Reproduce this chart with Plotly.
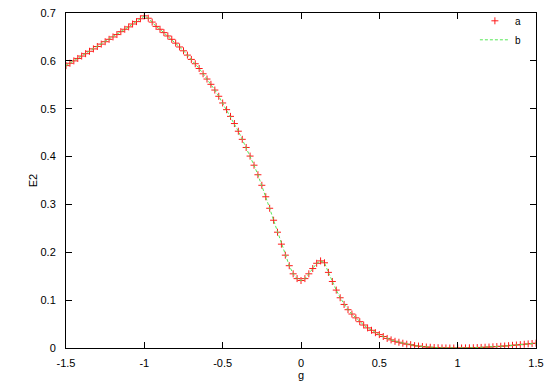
import plotly.graph_objects as go

g_values = [
    -1.500, -1.475, -1.450, -1.425, -1.400, -1.375, -1.350, -1.325, -1.300, -1.275,
    -1.250, -1.225, -1.200, -1.175, -1.150, -1.125, -1.100, -1.075, -1.050, -1.025,
    -1.000, -0.975, -0.950, -0.925, -0.900, -0.875, -0.850, -0.825, -0.800, -0.775,
    -0.750, -0.725, -0.700, -0.675, -0.650, -0.625, -0.600, -0.575, -0.550, -0.525,
    -0.500, -0.475, -0.450, -0.425, -0.400, -0.375, -0.350, -0.325, -0.300, -0.275,
    -0.250, -0.225, -0.200, -0.175, -0.150, -0.125, -0.100, -0.075, -0.050, -0.025,
    0.000, 0.025, 0.050, 0.075, 0.100, 0.125, 0.150, 0.175, 0.200, 0.225,
    0.250, 0.275, 0.300, 0.325, 0.350, 0.375, 0.400, 0.425, 0.450, 0.475,
    0.500, 0.525, 0.550, 0.575, 0.600, 0.625, 0.650, 0.675, 0.700, 0.725,
    0.750, 0.775, 0.800, 0.825, 0.850, 0.875, 0.900, 0.925, 0.950, 0.975,
    1.000, 1.025, 1.050, 1.075, 1.100, 1.125, 1.150, 1.175, 1.200, 1.225,
    1.250, 1.275, 1.300, 1.325, 1.350, 1.375, 1.400, 1.425, 1.450, 1.475,
    1.500,
]

e2_values = [
    0.590, 0.595, 0.600, 0.605, 0.610, 0.615, 0.620, 0.625, 0.630, 0.635,
    0.640, 0.645, 0.650, 0.655, 0.661, 0.666, 0.671, 0.677, 0.682, 0.688,
    0.694, 0.689, 0.681, 0.672, 0.666, 0.659, 0.652, 0.645, 0.637, 0.629,
    0.621, 0.612, 0.603, 0.594, 0.584, 0.573, 0.562, 0.551, 0.539, 0.526,
    0.512, 0.498, 0.484, 0.469, 0.453, 0.436, 0.419, 0.401, 0.382, 0.362,
    0.340, 0.316, 0.292, 0.267, 0.242, 0.217, 0.194, 0.172, 0.155, 0.145,
    0.141, 0.145, 0.155, 0.166, 0.177, 0.182, 0.178, 0.158, 0.139, 0.121,
    0.105, 0.091, 0.080, 0.071, 0.063, 0.055, 0.048, 0.042, 0.037, 0.032,
    0.028, 0.024, 0.020, 0.017, 0.014, 0.012, 0.010, 0.008, 0.007, 0.005,
    0.004, 0.003, 0.002, 0.0015, 0.001, 0.0006, 0.0003, 0.0001, 0.0, 0.0,
    0.0, 0.0001, 0.0002, 0.0004, 0.0006, 0.0009, 0.0012, 0.0016, 0.0020, 0.0025,
    0.0030, 0.0036, 0.0042, 0.0049, 0.0056, 0.0063, 0.0070, 0.0078, 0.0086, 0.0094,
    0.0100,
]

x_ticks = [-1.5, -1.0, -0.5, 0.0, 0.5, 1.0, 1.5]
x_tick_labels = ["-1.5", "-1", "-0.5", "0", "0.5", "1", "1.5"]
y_ticks = [0.0, 0.1, 0.2, 0.3, 0.4, 0.5, 0.6, 0.7]
y_tick_labels = ["0", "0.1", "0.2", "0.3", "0.4", "0.5", "0.6", "0.7"]

font = dict(family="Liberation Sans, Arial, sans-serif", size=11, color="black")

fig = go.Figure()
fig.add_trace(go.Scatter(
    x=g_values, y=e2_values, mode="markers", name="a",
    marker=dict(symbol="cross-thin", size=5, color="#ff0000",
                line=dict(color="#ff1a1a", width=1)),
))
fig.add_trace(go.Scatter(
    x=g_values, y=e2_values, mode="lines", name="b",
    line=dict(color="#55e855", width=1, dash="3px,2px"),
))

axis_common = dict(
    showgrid=False, zeroline=False, showline=True, linecolor="black", linewidth=1,
    mirror="ticks", ticks="inside", ticklen=6, tickcolor="black", tickwidth=1,
    tickfont=font, ticklabeloverflow="allow",
)

fig.update_layout(
    width=545, height=382,
    margin=dict(l=66, r=9, t=13, b=34, autoexpand=False),
    paper_bgcolor="white", plot_bgcolor="white",
    font=font,
    showlegend=True,
    legend=dict(x=0.87, y=1.02, xanchor="left", yanchor="top",
                bgcolor="rgba(0,0,0,0)", font=dict(family=font["family"], size=10, color="black"),
                tracegroupgap=0, itemwidth=30),
    xaxis=dict(range=[-1.5, 1.5], tickvals=x_ticks, ticktext=x_tick_labels,
               ticklabelstandoff=5,
               title=dict(text="g", font=font, standoff=0), **axis_common),
    yaxis=dict(range=[0, 0.7], tickvals=y_ticks, ticktext=y_tick_labels,
               ticklabelstandoff=7,
               title=dict(text="E2", font=font, standoff=0), **axis_common),
)

# remove the default 8px page margin so the 545x382 figure fills the window exactly
fig.write_html(
    "out.html",
    config={"displayModeBar": False},
    post_script="document.body.style.margin='0';document.body.style.overflow='hidden';",
)
